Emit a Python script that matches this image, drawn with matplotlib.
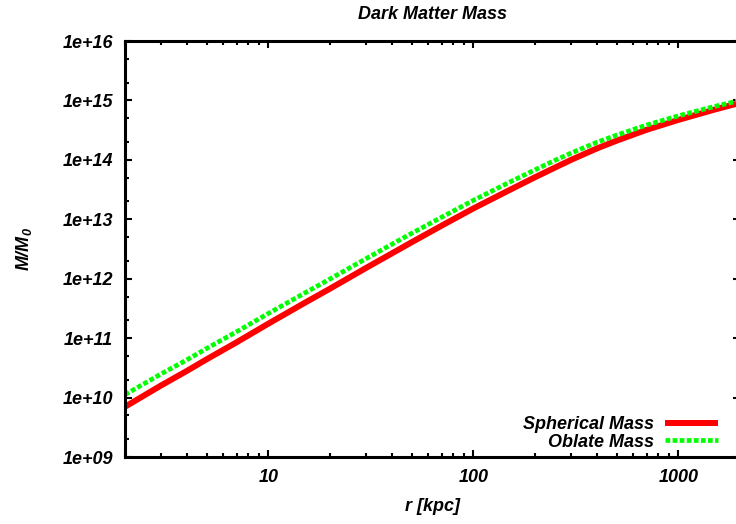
import matplotlib.pyplot as plt
from matplotlib.ticker import LogLocator, NullFormatter, FixedLocator, FixedFormatter

# radius in kpc
r = [2, 3, 4, 5, 7, 10, 15, 20, 30, 50, 70, 100, 150, 200, 250, 300, 400, 500, 700, 1000, 1500, 2000]
# enclosed dark matter mass in units of M_0
spherical = [7.0e9, 1.6e10, 2.8e10, 4.4e10, 8.5e10, 1.75e11, 3.9e11, 6.8e11, 1.52e12, 4.1e12,
             7.8e12, 1.52e13, 3.1e13, 5.1e13, 7.4e13, 1.0e14, 1.55e14, 2.1e14, 3.2e14, 4.7e14,
             7.0e14, 9.1e14]
oblate = [1.12e10, 2.5e10, 4.3e10, 6.7e10, 1.28e11, 2.6e11, 5.7e11, 9.9e11, 2.18e12, 5.8e12,
          1.08e13, 2.08e13, 4.2e13, 6.8e13, 9.8e13, 1.3e14, 1.97e14, 2.6e14, 3.85e14, 5.5e14,
          7.9e14, 1.0e15]

xticks = [10, 100, 1000]
xticklabels = ['10', '100', '1000']
yticks = [1e9, 1e10, 1e11, 1e12, 1e13, 1e14, 1e15, 1e16]
yticklabels = ['1e+09', '1e+10', '1e+11', '1e+12', '1e+13', '1e+14', '1e+15', '1e+16']

plt.rcParams['font.family'] = ['Liberation Sans', 'DejaVu Sans']
plt.rcParams['font.weight'] = 'bold'
plt.rcParams['font.style'] = 'italic'
plt.rcParams['font.size'] = 13
plt.rcParams['axes.titleweight'] = 'bold'
plt.rcParams['axes.labelweight'] = 'bold'

fig = plt.figure(figsize=(7.36, 5.24), dpi=100)
ax = fig.add_axes([125 / 736, 1 - 457 / 524, 615 / 736, 416 / 524])

ax.plot(r, spherical, color='#ff0000', lw=4.3, label='Spherical Mass', solid_capstyle='butt')
ax.plot(r, oblate, color='#00ff00', lw=3.4, dashes=(1.0, 0.5), label='Oblate Mass', dash_capstyle='butt')

ax.set_xscale('log')
ax.set_yscale('log')
ax.set_xlim(2, 2000)
ax.set_ylim(1e9, 1e16)

ax.xaxis.set_major_locator(FixedLocator(xticks))
ax.xaxis.set_major_formatter(FixedFormatter(xticklabels))
ax.yaxis.set_major_locator(FixedLocator(yticks))
ax.yaxis.set_major_formatter(FixedFormatter(yticklabels))
ax.xaxis.set_minor_locator(LogLocator(base=10, subs=range(2, 10), numticks=20))
ax.yaxis.set_minor_locator(LogLocator(base=10, subs=(2, 5), numticks=20))
ax.xaxis.set_minor_formatter(NullFormatter())
ax.yaxis.set_minor_formatter(NullFormatter())

ax.tick_params(which='both', direction='in', top=True, right=True, width=1.5, color='black')
ax.tick_params(which='major', length=5)
ax.tick_params(which='minor', length=3)
ax.tick_params(axis='y', pad=8.5)
ax.tick_params(axis='x', pad=9)
for s in ax.spines.values():
    s.set_linewidth(2.2)

ax.set_title('Dark Matter Mass', fontsize=13, fontweight='bold', pad=16)
ax.set_xlabel('r [kpc]', fontweight='bold', labelpad=8)
ax.set_ylabel(r'$\mathregular{M/M_0}$', fontweight='bold', labelpad=21)

ax.legend(loc='lower right', bbox_to_anchor=(0.964, 0.015), frameon=False, markerfirst=False,
          handlelength=2.9, handletextpad=0.65, labelspacing=0.05, borderpad=0, borderaxespad=0)

fig.savefig('out.png', dpi=100)
